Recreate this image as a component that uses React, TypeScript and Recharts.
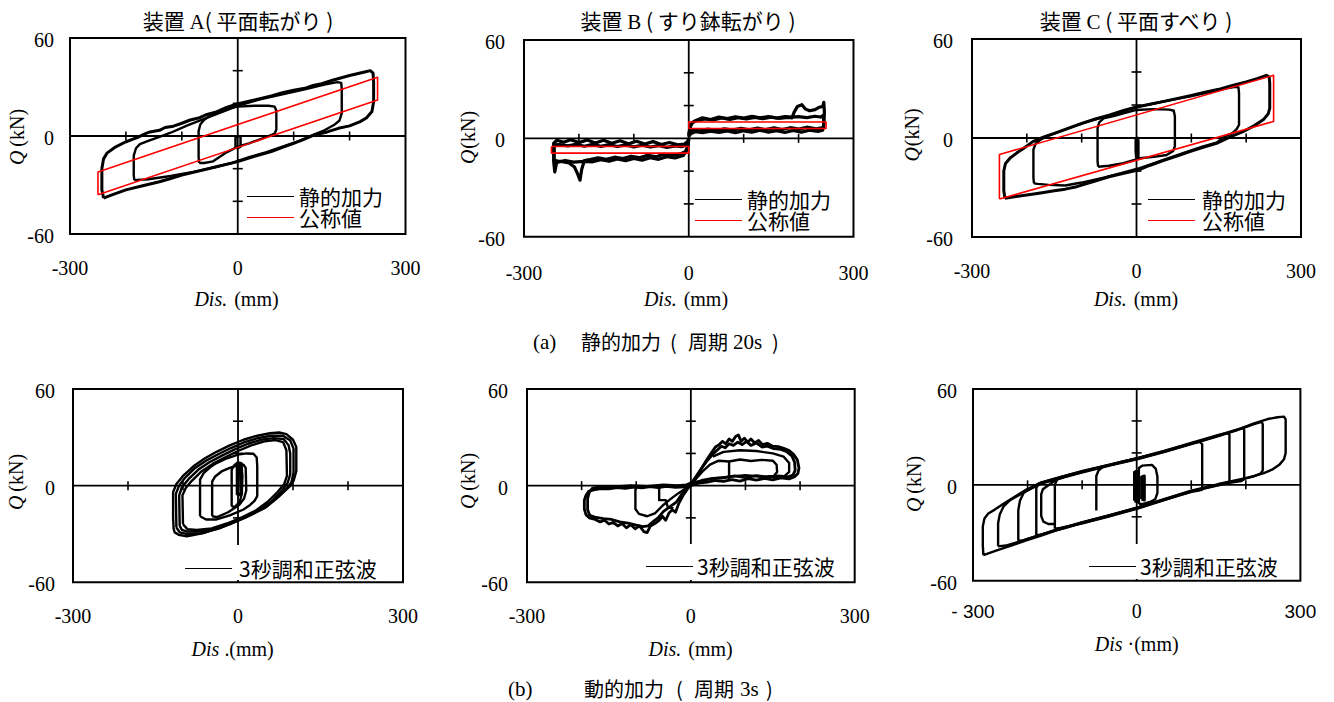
import React from 'react';
import {
  ScatterChart,
  Scatter,
  XAxis,
  YAxis,
  ReferenceLine,
  ReferenceArea,
  ReferenceDot,
  Legend,
  Label,
} from 'recharts';

const SERIF = "'Liberation Serif', 'Times New Roman', serif";
const SANS = "'Liberation Sans', Arial, sans-serif";
const CJK = "'Noto Sans CJK JP', 'Noto Sans', sans-serif";
const BLACK = '#000000';
const RED = '#ff0000';

// ---- axis ticks ----
const xTickValues = [-300, 0, 300];
const yTickValues = [-60, 0, 60];
const xMinorTicks = [-200, -100, 100, 200];
const yMinorTicks = [-40, -20, 20, 40];

// ---- device A, static loading (Dis. mm, Q kN) ----
const aOuter = [
  [-240, -38], [-243, -33], [-243, -20], [-240, -14], [-234, -10.5], [-220, -7], [-200, -3.5],
  [-180, -1], [-165, 1.5], [-157, 2.5], [-140, 3.5], [-130, 5.2], [-115, 6], [-100, 7.8],
  [-85, 9.8], [-70, 11], [-55, 13.2], [-40, 14.5], [-20, 17.5], [-1, 19.6], [30, 22],
  [60, 24.5], [80, 26.5], [100, 28], [120, 29.2], [135, 31], [150, 32], [171, 34.3], [200, 37],
  [225, 39], [237, 40], [242, 38.5], [243, 33], [243, 21], [240, 15], [230, 11], [219, 8.8],
  [200, 6.2], [180, 4.7], [160, 2.5], [136, 0.6], [115, -2.5], [100, -4.5], [80, -7], [60, -9.5],
  [30, -12.5], [0, -15.7], [-40, -19], [-70, -21.5], [-100, -23.9], [-120, -26], [-140, -28],
  [-170, -30.5], [-200, -33], [-225, -36], [-240, -38],
];
const aMiddle = [
  [-185, -27], [-186, -24], [-186, -12], [-182, -7.5], [-175, -5], [-160, -3], [-140, -0.5],
  [-120, 2], [-90, 6.5], [-60, 10.5], [-30, 14.5], [0, 18.5], [40, 22.5], [80, 25.5],
  [120, 28.5], [155, 31.5], [178, 33], [185, 32.5], [186, 29], [186, 14], [182, 9.5], [172, 6.7],
  [155, 3.5], [136, 0.8], [110, -3], [80, -6.5], [50, -10], [20, -13], [-10, -16.5], [-40, -19],
  [-80, -22], [-120, -24.5], [-160, -26.5], [-185, -27],
];
const aInner = [
  [-69, -16.5], [-70, -13], [-70, 3], [-67, 7], [-60, 10], [-45, 13.5], [-25, 16.5], [0, 18],
  [30, 18.5], [55, 18.5], [66, 18], [69, 15.5], [69, 4], [66, 1.5], [55, 0], [40, -2],
  [20, -4.5], [0, -6.5], [-20, -10], [-44, -15.5], [-60, -16.5], [-69, -16.5],
];
const aTiny = [[-4, -7], [-4, -1], [0, 0], [5, -0.5], [5, -6.5], [0, -7.5], [-4, -7]];
const aNominal = [[-250, -36], [-250, -22], [250, 36], [250, 22], [-250, -36]];

// ---- device B, static loading ----
const bPos = [
  [0, 1], [2, 6], [6, 9.5], [15, 11], [30, 11.8], [45, 11.2], [60, 12.4], [75, 11.6], [90, 12.6],
  [105, 11.8], [120, 12.8], [135, 12], [150, 12.9], [165, 12.1], [180, 12.8], [188, 12.5],
  [192, 16], [198, 19.5], [206, 20.5], [212, 18], [220, 16.8], [230, 17.5], [238, 19], [244, 19.5],
  [246, 22], [247, 16], [246, 8], [244, 5], [235, 4.2], [220, 5], [205, 3.8], [190, 4.8],
  [175, 3.6], [160, 4.7], [145, 3.8], [130, 4.9], [115, 3.7], [100, 4.6], [85, 3.5], [70, 4.5],
  [55, 3.6], [40, 4.4], [25, 3.4], [12, 4], [4, 3], [0, 1],
];
const bPos2 = [
  [0, 2], [3, 8], [10, 10.5], [25, 12.5], [40, 11.5], [55, 13], [70, 12], [85, 13.2], [100, 12.3],
  [115, 13.4], [130, 12.5], [145, 13.3], [160, 12.4], [175, 13.3], [188, 13], [200, 13.2],
  [215, 12.6], [230, 13.5], [240, 13], [245, 14], [246, 10], [245, 6.5], [232, 5.8], [215, 6.8],
  [200, 5.6], [185, 6.5], [170, 5.4], [155, 6.4], [140, 5.3], [125, 6.2], [110, 5.2], [95, 6.1],
  [80, 5], [65, 5.8], [50, 4.8], [35, 5.6], [20, 4.6], [8, 5], [2, 4],
];
const bNeg = [
  [0, 0], [-2, -5], [-6, -8], [-15, -9.5], [-30, -10.5], [-45, -9.8], [-60, -11.2], [-75, -10.4],
  [-90, -11.8], [-105, -10.9], [-120, -12.3], [-135, -11.5], [-150, -12.8], [-165, -11.9],
  [-180, -13], [-190, -13.5], [-195, -19], [-198, -25.5], [-202, -22], [-208, -17.5], [-218, -15],
  [-230, -14.2], [-240, -13.8], [-244, -20.5], [-246, -14], [-246, -3], [-240, -1.2], [-228, -2.4],
  [-215, -0.8], [-200, -2.6], [-185, -1], [-170, -2.8], [-155, -1.2], [-140, -3], [-125, -1.5],
  [-110, -3.3], [-95, -1.8], [-80, -3.5], [-65, -2], [-50, -3.8], [-35, -2.5], [-20, -4],
  [-8, -3.5], [-2, -2], [0, 0],
];
const bNeg2 = [
  [0, -1], [-3, -7], [-10, -10.5], [-25, -12], [-40, -11.2], [-55, -12.8], [-70, -11.8],
  [-85, -13.3], [-100, -12.3], [-115, -13.6], [-130, -12.6], [-145, -14], [-160, -13],
  [-175, -14.3], [-190, -14], [-210, -14.5], [-225, -13.5], [-238, -14.5], [-245, -13], [-245, -4],
  [-235, -3.8], [-220, -4.6], [-205, -3.6], [-190, -4.8], [-175, -3.7], [-160, -4.9], [-145, -3.8],
  [-130, -5], [-115, -4], [-100, -5.2], [-85, -4.2], [-70, -5.3], [-55, -4.4], [-40, -5.5],
  [-25, -4.6], [-12, -5], [-4, -4],
];
const bNominalNeg = [[-250, -5], [0, -5], [0, -9], [-250, -9], [-250, -5]];
const bNominalPos = [[0, 6], [250, 6], [250, 10], [0, 10], [0, 6]];

// ---- device C, static loading ----
const cOuter = [
  [-240, -36.5], [-242, -32], [-242, -20], [-239, -15.5], [-230, -12], [-218, -9], [-205, -6],
  [-189, -2.2], [-170, 0.5], [-150, 2.8], [-125, 5.8], [-100, 8.9], [-75, 11.5], [-50, 13.8],
  [-25, 16.5], [0, 18.8], [25, 20.5], [50, 22.2], [75, 24], [100, 25.8], [125, 27.8], [150, 29.5],
  [175, 31.8], [200, 34], [220, 36], [237, 38], [242, 37], [243, 33], [243, 18], [240, 14.5],
  [231, 11], [215, 7.5], [194, 3.8], [170, 0.5], [146, -3.2], [120, -5.8], [100, -8], [75, -10.8],
  [50, -13.5], [25, -16.5], [3, -19.4], [-25, -21.5], [-50, -23.5], [-80, -26.5], [-109, -29.5],
  [-130, -31], [-150, -32], [-175, -33.3], [-200, -34.5], [-220, -35.5], [-240, -36.5],
];
const cMiddle = [
  [-187, -27.5], [-188, -24], [-188, -7], [-184, -3.5], [-175, -1], [-160, 1.5], [-140, 3.8],
  [-110, 7.5], [-80, 10.8], [-50, 13.5], [-20, 16.8], [10, 19.5], [40, 21.5], [70, 23.4],
  [100, 25.4], [130, 27.5], [160, 29.8], [180, 31], [186, 30.6], [187, 27], [187, 8], [183, 5.5],
  [175, 3], [160, 0.8], [146, -2.8], [120, -5.3], [90, -8.5], [60, -12], [30, -15.5], [0, -18.8],
  [-30, -21.4], [-60, -24], [-100, -27], [-130, -28.8], [-160, -28.4], [-180, -27.8], [-187, -27.5],
];
const cInner = [
  [-70, -17.4], [-71, -14], [-71, 6], [-68, 9.5], [-60, 11.9], [-40, 13.5], [-24, 15], [0, 17],
  [30, 17.5], [60, 17.2], [68, 16.5], [70, 13], [70, -5], [67, -7.8], [55, -10.3], [35, -11.3],
  [6, -12.3], [-24, -15.3], [-50, -16.8], [-70, -17.4],
];
const cTiny = [[0, -12], [-1, -8], [-1, -1], [2, 0], [3, -2], [3, -11], [1, -12.5], [0, -12]];
const cNominal = [[-250, -37], [-250, -10], [250, 38], [250, 10], [-250, -37]];

// ---- device A, 3 s harmonic sine wave ----
const dOuter1 = [
  [-117, -27], [-118, -20], [-118, -4], [-112, 1], [-100, 6], [-81, 12], [-60, 17], [-39, 21],
  [-15, 25], [10, 28.5], [35, 31], [58, 32.5], [75, 33], [88, 32], [100, 28.5], [106, 24],
  [106, 9], [101, 3], [94, -0.5], [75, -6.5], [52, -13], [25, -17.5], [-2, -21.5], [-30, -25.5],
  [-63, -29.5], [-93, -31.5], [-108, -30.5], [-115, -29], [-117, -27],
];
const dOuter2 = [
  [-112, -26], [-113, -5], [-107, 0], [-96, 5], [-78, 11], [-58, 15.5], [-36, 19.5], [-12, 23.5],
  [12, 27], [36, 29.5], [60, 31], [82, 31], [95, 28], [101, 23], [101, 8], [97, 2], [88, -2],
  [70, -8], [48, -14], [22, -18.5], [-5, -22.5], [-34, -26.5], [-65, -29.5], [-92, -30],
  [-106, -29], [-112, -26],
];
const dOuter3 = [
  [-106, -25], [-107, -6], [-102, -1], [-90, 4], [-72, 10], [-52, 14.5], [-30, 18.5], [-6, 22.5],
  [18, 26], [42, 28.5], [64, 29.5], [83, 29], [92, 25], [95, 20], [95, 7], [90, 1.5], [80, -3],
  [62, -9.5], [40, -15], [15, -19.5], [-12, -23.5], [-40, -27], [-70, -28.5], [-92, -28.5],
  [-102, -27.5], [-106, -25],
];
const dOuter4 = [
  [-100, -24], [-101, -6], [-95, -1.5], [-84, 3], [-66, 9], [-46, 13.5], [-24, 17.5], [0, 21.5],
  [24, 25], [48, 27.5], [68, 28.3], [82, 27], [88, 22], [89, 6], [84, 1], [72, -4], [54, -10],
  [32, -15.5], [8, -19.5], [-20, -23.5], [-48, -26.5], [-75, -27.5], [-92, -27], [-100, -24],
];
const dMid = [
  [-69, -19], [-69, 3.7], [-62, 8], [-50, 11.5], [-39, 14], [-20, 17], [0, 19.3], [16, 20],
  [28, 19.8], [34, 17.5], [35, 12], [35, -6.5], [30, -9.5], [22, -12], [10, -14.8], [-15, -18.5],
  [-39, -21], [-58, -21], [-69, -19],
];
const dSmall = [
  [-47, -19], [-47, 2.5], [-42, 5.5], [-30, 8.8], [-15, 11], [0, 12.8], [10, 13], [14, 11],
  [15, -3], [11, -8], [2, -12], [-18, -16.5], [-38, -19.5], [-47, -19],
];
const dTiny = [
  [-11.5, -13], [-11.5, 10], [-7, 12.5], [0, 14.5], [6, 14], [8, 6], [7, -5], [3, -10],
  [-5, -13], [-11.5, -13],
];
const dCore = [[-1, -6], [-1, 12], [5, 13.5], [6, -5], [-1, -6]];

// ---- device B, 3 s harmonic sine wave ----
const eOuter1 = [
  [0, 0], [8, 4], [15, 8], [22, 12], [30, 16.5], [38, 20.5], [45, 24], [52, 25.5], [58, 27.5],
  [64, 26], [70, 29], [76, 27.5], [82, 30.5], [87, 31.5], [92, 27.5], [98, 29.5], [104, 27],
  [110, 29], [117, 26.5], [124, 28], [131, 25.5], [140, 26.3], [150, 24.5], [160, 24.2],
  [170, 23.2], [180, 21.8], [188, 19.5], [195, 16], [198, 11], [196, 7.5], [190, 5.5], [180, 4.2],
  [165, 4.8], [150, 3.6], [135, 4.5], [120, 3.4], [105, 4.3], [90, 2.8], [75, 3.8], [60, 2.6],
  [45, 3.2], [30, 2.2], [15, 1.5], [5, 0.8], [0, 0],
];
const eOuter2 = [
  [0, 1], [10, 6], [20, 11], [30, 15.5], [40, 19.5], [48, 22], [56, 24.5], [63, 23.5], [70, 26],
  [78, 25], [86, 27], [94, 25.5], [102, 27.5], [110, 25], [120, 26.5], [130, 24], [140, 24.5],
  [152, 23], [165, 22.5], [176, 21], [185, 18.5], [190, 14.5], [191, 9.5], [187, 6.5], [178, 5.5],
  [160, 6], [140, 5.2], [120, 6.2], [100, 5], [80, 6], [60, 4.8], [40, 4.5], [20, 3.2], [8, 2],
];
const eInner1 = [
  [0, 0], [10, 4.5], [22, 9], [35, 13], [51, 15.5], [70, 15], [90, 16.2], [110, 15.3], [130, 16],
  [150, 15.5], [157, 13], [158, 8.5], [152, 6], [130, 5.5], [100, 6.5], [70, 5.5], [40, 4.5],
  [15, 2.5], [0, 0],
];
const eInner2 = [
  [40, 18], [60, 21], [90, 22], [120, 21.5], [150, 20], [170, 18], [180, 14], [180, 8.5],
  [172, 6], [150, 5],
];
const eStepPos = [[70, 15.5], [70, 4]];
const eNeg1 = [
  [0, 0], [-10, -0.8], [-28, -1], [-45, -0.5], [-60, -1.2], [-75, -0.6], [-89, -1.3], [-105, -0.9],
  [-120, -1.7], [-135, -1.2], [-150, -2], [-165, -1.8], [-178, -2.6], [-187, -3.5], [-192, -6],
  [-195, -9], [-195, -14.5], [-192, -18], [-186, -20], [-175, -21], [-166, -22.5], [-158, -21.5],
  [-150, -23.8], [-142, -22.8], [-134, -25], [-126, -23.5], [-118, -26.2], [-110, -24.2],
  [-102, -26.8], [-94, -25], [-86, -28.5], [-80, -29.2], [-74, -25], [-66, -23.5], [-58, -21.5],
  [-52, -19], [-46, -21.5], [-40, -17], [-34, -15], [-28, -16.5], [-22, -11], [-14, -6], [-6, -2],
  [0, 0],
];
const eNeg2 = [
  [2, 2], [-8, 0.5], [-25, 0], [-50, 0.4], [-80, -0.4], [-110, 0], [-140, -0.8], [-165, -0.6],
  [-180, -1.5], [-186, -4], [-189, -8], [-189, -15], [-185, -18.5], [-176, -19.5], [-160, -20.5],
  [-145, -21], [-130, -22.5], [-115, -23.2], [-100, -24.5], [-88, -25.5], [-78, -25], [-68, -22],
  [-60, -20], [-50, -16], [-38, -13], [-26, -10], [-14, -4], [-4, 0],
];
const eNegInner = [
  [-101.5, -2], [-101.5, -14.5], [-95, -17.5], [-80, -19], [-65, -17], [-52, -12.5], [-38, -8.5],
  [-22, -4.5], [-8, -1.5],
];
const eStepNeg = [[-58, -1], [-58, -9], [-46, -9], [-42, -13.5], [-32, -14]];

// ---- device C, 3 s harmonic sine wave ----
const f1 = [
  [-281, -44], [-282, -38], [-282, -26], [-279, -21], [-272, -18], [-260, -15.5], [-242, -11.4],
  [-225, -7.8], [-205, -3.5], [-175, 1.5], [-150, 3.8], [-125, 6.2], [-101, 8.3], [-75, 10.5],
  [-50, 12.5], [-25, 14.6], [2, 16.7], [25, 18.8], [50, 21], [75, 23.5], [100, 26], [125, 28.5],
  [150, 31], [170, 33.2], [191, 35.4], [215, 38.5], [240, 41.2], [258, 42.3], [270, 42.7],
  [273, 41], [273, 20], [270, 16], [262, 12.8], [248, 9.5], [233, 7.3], [210, 5], [191, 3.1],
  [170, 1.5], [150, 0], [125, -2], [100, -4.2], [75, -6.8], [50, -9.5], [25, -12], [2, -14.6],
  [-25, -17], [-50, -19.5], [-75, -21.8], [-101, -24], [-125, -26.5], [-150, -28.8],
  [-175, -31.8], [-205, -35], [-230, -38], [-255, -40.8], [-281, -44],
];
const f2 = [
  [-254, -38.5], [-254, -24], [-251, -18.5], [-244, -13.5], [-232, -9.6], [-205, -4.3],
  [-175, 0.8], [-150, 3.2], [-101, 7.7], [-50, 12], [2, 16.2], [50, 20.5], [100, 25.5],
  [150, 30.5], [191, 35], [215, 38], [229, 39.5], [231, 38], [231, 9], [227, 7], [215, 5.4],
  [191, 3.6], [150, 0.5], [100, -3.7], [50, -9], [2, -14.1], [-50, -19], [-101, -23.5],
  [-150, -28.3], [-205, -34.5], [-240, -38], [-254, -38.5],
];
const f3 = [
  [-217, -35], [-217, -16], [-214, -10], [-207, -5], [-190, -1.5], [-175, 1.2], [-150, 3.5],
  [-101, 8], [-50, 12.3], [2, 16.5], [50, 20.8], [100, 25.8], [150, 30.8], [185, 34.5],
  [196, 35.8], [197, 34], [197, 3.5], [192, 2.4], [170, 1.2], [150, -0.3], [100, -4], [50, -9.3],
  [2, -14.3], [-50, -19.2], [-101, -23.7], [-150, -28.5], [-190, -32.8], [-210, -35], [-217, -35],
];
const f4 = [
  [-184, -31.5], [-184, -2], [-180, 0.6], [-168, 2], [-150, 3.9], [-101, 8.5], [-50, 12.7],
  [2, 16.9], [50, 21.2], [100, 26.2], [150, 31.2], [165, 32.5], [170, 31.5], [170, 2.2],
  [165, 1.3], [150, 0.2], [100, -3.9], [50, -9.2], [2, -14.3], [-50, -19.3], [-101, -23.8],
  [-150, -28.6], [-175, -31.2], [-184, -31.5],
];
const f5 = [
  [-150, -27.5], [-150, 0], [-146, 3.2], [-130, 5.5], [-101, 8.1], [-50, 12.3], [2, 16.5],
  [50, 20.8], [100, 25.8], [115, 27], [120, 25.5], [120, -3], [114, -3.6], [100, -4.4],
  [50, -9.6], [2, -14.8], [-50, -19.7], [-101, -24.2], [-140, -27], [-150, -27.5],
];
const f6 = [
  [-150, -24.5], [-162, -24.5], [-171, -23], [-175, -19.5], [-175, -6], [-172, -2.8],
  [-165, -1], [-150, 2.5],
];
const f7 = [[-74, -16], [-74, 5.5], [-70, 9], [-62, 11.3], [-50, 12.4]];
const f8 = [
  [4, -12], [4, 10.5], [10, 12], [28, 12.5], [35, 10], [38, 5], [38, -5], [34, -9], [26, -10.5],
  [12, -12], [4, -12],
];
const f9 = [[-4, -10], [-4, 8], [0, 8.5], [0, -10.5], [-4, -10]];
const f10 = [[9, -9], [9, 5], [14, 5.5], [14, -9.5], [9, -9]];

// ---- text ----
const titles = [
  { cx: 238, head: '装置 ', letter: 'A', tail: '( 平面転がり )' },
  { cx: 688, head: '装置 ', letter: 'B', tail: ' ( すり鉢転がり )' },
  { cx: 1136, head: '装置 ', letter: 'C', tail: ' ( 平面すべり )' },
];
const staticLegend = ['静的加力', '公称値'];
const dynamicLegend = ['3秒調和正弦波'];
// caption pieces: [text, left x, serif?]
const captionA: [string, number, boolean][] = [
  ['(a)', 533, true], ['静的加力', 581, false], ['(', 670, false], ['周期', 688, false],
  ['20s', 733, true], [')', 772, false],
];
const captionB: [string, number, boolean][] = [
  ['(b)', 508, true], ['動的加力', 584, false], ['(', 676, false], ['周期', 694, false],
  ['3s', 740, true], [')', 766, false],
];

type Series = { key: string; points: number[][]; color: string; width: number };
type LegendItem = { label: string; color: string };
type PanelCfg = {
  id: string;
  plot: { x: number; y: number; w: number; h: number };
  series: Series[];
  yGap: number;
  xDrop: number;
  sansX?: boolean;
  xLabel: { cx: number; by: number; kind: 'std' | 'dot' | 'mid' };
  yLabel: { bx: number; cy: number; glued?: boolean };
  legend: {
    x: number;
    y: number;
    items: LegendItem[];
    box?: { w: number; h: number; padTop: number; padLeft: number };
    gap: number;
  };
};

const blk = (key: string, points: number[][], width = 2.4): Series => ({ key, points, color: BLACK, width });
const red = (key: string, points: number[][]): Series => ({ key, points, color: RED, width: 1.6 });

const staticItems: LegendItem[] = [
  { label: staticLegend[0], color: BLACK },
  { label: staticLegend[1], color: RED },
];
const dynamicItems: LegendItem[] = [{ label: dynamicLegend[0], color: BLACK }];

const panels: PanelCfg[] = [
  {
    id: 'a-static',
    plot: { x: 69.5, y: 38, w: 335.5, h: 196 },
    series: [
      blk('outer', aOuter, 3), blk('middle', aMiddle), blk('inner', aInner),
      blk('tiny', aTiny, 2.5), red('nominal', aNominal),
    ],
    yGap: 16, xDrop: 41,
    xLabel: { cx: 236, by: 306, kind: 'std' },
    yLabel: { bx: 23, cy: 137 },
    legend: { x: 247, y: 185.5, items: staticItems, gap: 5 },
  },
  {
    id: 'b-static',
    plot: { x: 524, y: 40, w: 329.5, h: 196.7 },
    series: [
      blk('pos', bPos, 3.2), blk('pos2', bPos2, 3.2), blk('neg', bNeg, 3.2), blk('neg2', bNeg2, 3.2),
      red('nomNeg', bNominalNeg), red('nomPos', bNominalPos),
    ],
    yGap: 19, xDrop: 43,
    xLabel: { cx: 686, by: 306, kind: 'std' },
    yLabel: { bx: 475, cy: 137.5, glued: true },
    legend: { x: 695, y: 188.5, items: staticItems, gap: 5 },
  },
  {
    id: 'c-static',
    plot: { x: 972, y: 39, w: 329, h: 198 },
    series: [
      blk('outer', cOuter, 3), blk('middle', cMiddle), blk('inner', cInner),
      blk('tiny', cTiny, 3), red('nominal', cNominal),
    ],
    yGap: 19, xDrop: 41,
    xLabel: { cx: 1136, by: 306, kind: 'std' },
    yLabel: { bx: 919, cy: 135, glued: true },
    legend: { x: 1148, y: 188.5, items: staticItems, gap: 7 },
  },
  {
    id: 'a-dynamic',
    plot: { x: 73.3, y: 389, w: 330, h: 193.3 },
    series: [
      blk('o1', dOuter1), blk('o2', dOuter2), blk('o3', dOuter3), blk('o4', dOuter4),
      blk('mid', dMid), blk('small', dSmall), blk('tiny', dTiny), blk('core', dCore, 3.5),
    ],
    yGap: 18, xDrop: 41,
    xLabel: { cx: 233, by: 656, kind: 'dot' },
    yLabel: { bx: 23, cy: 482 },
    legend: {
      x: 180, y: 545, items: dynamicItems, gap: 7,
      box: { w: 220, h: 35, padTop: 12.5, padLeft: 5 },
    },
  },
  {
    id: 'b-dynamic',
    plot: { x: 527.3, y: 389, w: 327.7, h: 193.3 },
    series: [
      blk('o1', eOuter1, 2.8), blk('o2', eOuter2, 2.8), blk('i1', eInner1), blk('i2', eInner2),
      blk('sp', eStepPos), blk('n1', eNeg1, 2.8), blk('n2', eNeg2, 2.8), blk('ni', eNegInner),
      blk('sn', eStepNeg),
    ],
    yGap: 19, xDrop: 41,
    xLabel: { cx: 691, by: 656, kind: 'std' },
    yLabel: { bx: 475, cy: 481 },
    legend: {
      x: 641, y: 544, items: dynamicItems, gap: 4,
      box: { w: 211, h: 36, padTop: 12, padLeft: 5 },
    },
  },
  {
    id: 'c-dynamic',
    plot: { x: 973.3, y: 389, w: 327.4, h: 191.7 },
    series: [
      blk('f1', f1), blk('f2', f2), blk('f3', f3), blk('f4', f4), blk('f5', f5), blk('f6', f6),
      blk('f7', f7), blk('f8', f8), blk('f9', f9, 3), blk('f10', f10, 3),
    ],
    yGap: 16, xDrop: 37, sansX: true,
    xLabel: { cx: 1137, by: 651, kind: 'mid' },
    yLabel: { bx: 921, cy: 484 },
    legend: {
      x: 1084, y: 544, items: dynamicItems, gap: 4,
      box: { w: 214, h: 35, padTop: 12, padLeft: 5 },
    },
  },
];

const toPts = (pairs: number[][]) => pairs.map(([x, y]) => ({ x, y }));
const noDot = () => <g />;

const vTick = (p: any) => (
  <line x1={p.cx} x2={p.cx} y1={p.cy - 4.5} y2={p.cy + 4.5} stroke={BLACK} strokeWidth={1.6} />
);
const hTick = (p: any) => (
  <line x1={p.cx - 5} x2={p.cx + 5} y1={p.cy} y2={p.cy} stroke={BLACK} strokeWidth={1.6} />
);

const PAD_L = 70;
const PAD_T = 12;
const PAD_R = 30;
const PAD_B = 84;
const X_AXIS_H = 50;

function LegendBox({ cfg }: { cfg: PanelCfg['legend'] }) {
  const box = cfg.box;
  return (
    <div
      style={{
        background: box ? '#ffffff' : 'transparent',
        width: box ? box.w : undefined,
        height: box ? box.h : undefined,
        paddingTop: box ? box.padTop : 0,
        paddingLeft: box ? box.padLeft : 0,
        boxSizing: 'border-box',
        fontFamily: CJK,
        fontSize: 21,
        color: BLACK,
      }}
    >
      {cfg.items.map((it) => (
        <div key={it.label} style={{ display: 'flex', alignItems: 'center', height: 21, whiteSpace: 'nowrap' }}>
          <span
            style={{
              display: 'inline-block',
              width: 47,
              height: 0,
              borderTop: `1.5px solid ${it.color}`,
              marginRight: cfg.gap,
            }}
          />
          <span style={{ lineHeight: '21px' }}>{it.label}</span>
        </div>
      ))}
    </div>
  );
}

function Panel({ cfg }: { cfg: PanelCfg }) {
  const { plot } = cfg;
  const left = plot.x - PAD_L;
  const top = plot.y - PAD_T;
  const width = plot.w + PAD_L + PAD_R;
  const height = plot.h + PAD_T + PAD_B;

  const yTick = (p: any) => (
    <text x={p.x - cfg.yGap} y={p.y + 9} textAnchor="end" fontFamily={SERIF} fontSize={20} fill={BLACK}>
      {p.payload.value}
    </text>
  );
  const xTick = (p: any) => {
    const v = p.payload.value as number;
    const sans = !!cfg.sansX && v !== 0;
    return (
      <text
        x={p.x}
        y={p.y + cfg.xDrop}
        textAnchor="middle"
        fontFamily={sans ? SANS : SERIF}
        fontSize={sans ? 19 : 20}
        fill={BLACK}
      >
        {sans && v < 0 ? `- ${Math.abs(v)}` : v}
      </text>
    );
  };

  const xLabel = () => {
    const x = cfg.xLabel.cx - left;
    const y = cfg.xLabel.by - top;
    const k = cfg.xLabel.kind;
    return (
      <text x={x} y={y} textAnchor="middle" fontFamily={SERIF} fontSize={20} fill={BLACK}>
        <tspan fontStyle="italic">{k === 'std' ? 'Dis.' : 'Dis'}</tspan>
        <tspan dx={k === 'std' ? 7 : 5}>{k === 'std' ? '(mm)' : k === 'dot' ? '.(mm)' : '·(mm)'}</tspan>
      </text>
    );
  };
  const yLabel = () => {
    const x = cfg.yLabel.bx - left;
    const y = cfg.yLabel.cy - top;
    return (
      <text
        x={x}
        y={y}
        transform={`rotate(-90 ${x} ${y})`}
        textAnchor="middle"
        fontFamily={SERIF}
        fontSize={20}
        fill={BLACK}
      >
        <tspan fontStyle="italic">Q</tspan>
        <tspan dx={cfg.yLabel.glued ? 1 : 4}>(kN)</tspan>
      </text>
    );
  };

  return (
    <div style={{ position: 'absolute', left, top, width, height }}>
      <ScatterChart
        width={width}
        height={height}
        margin={{ top: PAD_T, right: PAD_R, bottom: PAD_B - X_AXIS_H, left: 0 }}
      >
        <XAxis
          type="number"
          dataKey="x"
          domain={[-300, 300]}
          ticks={xTickValues}
          interval={0}
          axisLine={false}
          tickLine={false}
          tickSize={0}
          tickMargin={0}
          height={X_AXIS_H}
          tick={xTick}
          allowDataOverflow
        >
          <Label content={xLabel} />
        </XAxis>
        <YAxis
          type="number"
          dataKey="y"
          domain={[-60, 60]}
          ticks={yTickValues}
          interval={0}
          axisLine={false}
          tickLine={false}
          tickSize={0}
          tickMargin={0}
          width={PAD_L}
          tick={yTick}
          allowDataOverflow
        >
          <Label content={yLabel} />
        </YAxis>
        <ReferenceLine x={0} stroke={BLACK} strokeWidth={1.8} />
        <ReferenceLine y={0} stroke={BLACK} strokeWidth={1.8} />
        {xMinorTicks.map((v) => (
          <ReferenceDot key={`xt${v}`} x={v} y={0} r={0} shape={vTick} />
        ))}
        {yMinorTicks.map((v) => (
          <ReferenceDot key={`yt${v}`} x={0} y={v} r={0} shape={hTick} />
        ))}
        {cfg.series.map((s) => (
          <Scatter
            key={s.key}
            name={s.key}
            data={toPts(s.points)}
            fill={s.color}
            stroke={s.color}
            line={{ stroke: s.color, strokeWidth: s.width, strokeLinejoin: 'round', fill: 'none' }}
            shape={noDot}
            legendType="none"
            isAnimationActive={false}
          />
        ))}
        <ReferenceArea
          x1={-300}
          x2={300}
          y1={-60}
          y2={60}
          fill="none"
          fillOpacity={0}
          stroke={BLACK}
          strokeWidth={2}
        />
        <Legend
          layout="horizontal"
          verticalAlign="middle"
          align="center"
          wrapperStyle={{
            left: cfg.legend.x - left,
            top: cfg.legend.y - top,
            right: 'auto',
            bottom: 'auto',
            width: 'auto',
            height: 'auto',
          }}
          content={() => <LegendBox cfg={cfg.legend} />}
        />
      </ScatterChart>
    </div>
  );
}

function Caption({ parts, top }: { parts: [string, number, boolean][]; top: number }) {
  return (
    <>
      {parts.map(([text, x, serif]) => (
        <span
          key={`${text}${x}`}
          style={{
            position: 'absolute',
            left: x,
            top,
            fontFamily: serif ? SERIF : CJK,
            fontSize: serif ? 21 : 20,
            lineHeight: '20px',
            whiteSpace: 'pre',
            color: BLACK,
          }}
        >
          {text}
        </span>
      ))}
    </>
  );
}

export default function App() {
  return (
    <div style={{ position: 'absolute', left: 0, top: 0, width: 1334, height: 702, background: '#fff' }}>
      {titles.map((t) => (
        <div
          key={t.letter}
          style={{
            position: 'absolute',
            left: t.cx - 160,
            width: 320,
            top: 10,
            textAlign: 'center',
            fontFamily: CJK,
            fontSize: 21,
            lineHeight: '21px',
            whiteSpace: 'pre',
            color: BLACK,
          }}
        >
          {t.head}
          <span style={{ fontFamily: SERIF }}>{t.letter}</span>
          {t.tail}
        </div>
      ))}
      {panels.map((p) => (
        <Panel key={p.id} cfg={p} />
      ))}
      <Caption parts={captionA} top={332} />
      <Caption parts={captionB} top={679} />
    </div>
  );
}
